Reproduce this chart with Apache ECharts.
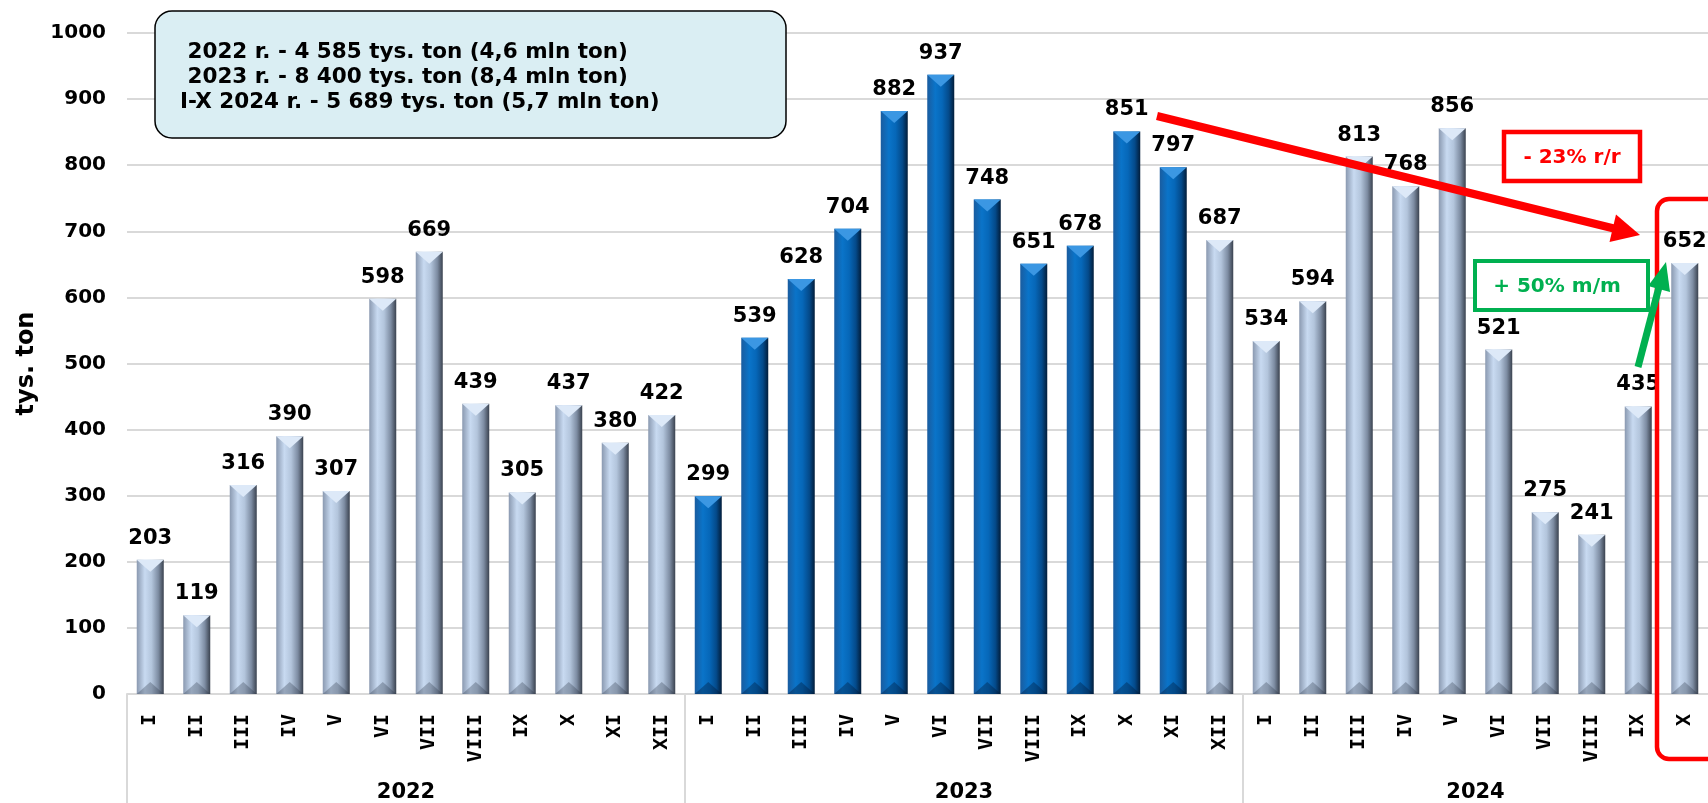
<!DOCTYPE html>
<html><head><meta charset="utf-8">
<script src="https://cdn.jsdelivr.net/npm/echarts@6/dist/echarts.min.js"></script>
<style>html,body{margin:0;padding:0;background:#fff}#c{width:1708px;height:803px}</style>
</head><body><div id="c"></div>
<script>
// ---- data ----
const years = ['2022', '2023', '2024'];
const monthNames = ['I','II','III','IV','V','VI','VII','VIII','IX','X','XI','XII'];
const values2022 = [203, 119, 316, 390, 307, 598, 669, 439, 305, 437, 380, 422];
const values2023 = [299, 539, 628, 704, 882, 937, 748, 651, 678, 851, 797, 687];
const values2024 = [534, 594, 813, 768, 856, 521, 275, 241, 435, 652];
const darkMonths2023 = 11; // I-XI 2023 drawn dark blue
const yAxisName = 'tys. ton';
const summaryLines = [
  ' 2022 r. - 4 585 tys. ton (4,6 mln ton)',
  ' 2023 r. - 8 400 tys. ton (8,4 mln ton)',
  'I-X 2024 r. - 5 689 tys. ton (5,7 mln ton)'
];
const yoyText = '- 23% r/r';
const momText = '+ 50% m/m';

// ---- build ----
const groups = [values2022, values2023, values2024];
const categories = [];
const values = [];
const isDark = [];
groups.forEach((g, gi) => g.forEach((v, mi) => {
  categories.push(monthNames[mi]);
  values.push(v);
  isDark.push(years[gi] === '2023' && mi < darkMonths2023);
}));
const total = categories.length;
const yearAxisData = new Array(2 * total + 1).fill('');
const boundaryIdx = [];
let start = 0;
groups.forEach((g, gi) => {
  boundaryIdx.push(2 * start);
  yearAxisData[2 * start + g.length] = years[gi];
  start += g.length;
});

const lightGrad = new echarts.graphic.LinearGradient(0, 0, 1, 0, [
  {offset: 0, color: '#8a99b0'}, {offset: 0.3, color: '#c8daf1'},
  {offset: 0.55, color: '#b3c5dc'}, {offset: 0.8, color: '#7d8ca2'}, {offset: 1, color: '#3a424f'}
]);
const darkGrad = new echarts.graphic.LinearGradient(0, 0, 1, 0, [
  {offset: 0, color: '#1a5c9f'}, {offset: 0.3, color: '#0a74c9'},
  {offset: 0.55, color: '#0667b8'}, {offset: 0.8, color: '#044a8a'}, {offset: 1, color: '#021d3a'}
]);

const FF = 'DejaVu Sans';
const BW = 27;

const chart = echarts.init(document.getElementById('c'), null, {renderer: 'canvas'});
chart.setOption({
  animation: false,
  backgroundColor: '#fff',
  grid: {left: 127, right: 0, top: 33, bottom: 107, containLabel: false},
  xAxis: [{
    type: 'category', data: categories, position: 'bottom',
    axisLine: {show: true, lineStyle: {color: '#d9d9d9', width: 2}},
    axisTick: {show: false},
    axisLabel: {interval: 0, rotate: 90, margin: 20, fontFamily: 'DejaVu Sans Mono', fontSize: 20, fontWeight: 'bold', color: '#000'}
  }, {
    type: 'category', data: yearAxisData, boundaryGap: false, position: 'bottom',
    axisLine: {show: false},
    axisTick: {show: true, length: 110, interval: (i) => boundaryIdx.includes(i), lineStyle: {color: '#d9d9d9', width: 2}},
    axisLabel: {interval: (i, v) => v !== '', margin: 88, fontFamily: FF, fontSize: 21, fontWeight: 'bold', color: '#000'}
  }],
  yAxis: {
    type: 'value', min: 0, max: 1000, interval: 100,
    name: yAxisName, nameLocation: 'middle', nameGap: 88, nameRotate: 90,
    nameTextStyle: {fontFamily: FF, fontSize: 24, fontWeight: 'bold', color: '#000'},
    axisLine: {show: false}, axisTick: {show: false},
    axisLabel: {margin: 21, fontFamily: FF, fontSize: 20, fontWeight: 'bold', color: '#000', formatter: (v) => String(v)},
    splitLine: {lineStyle: {color: '#d9d9d9', width: 2}}
  },
  series: [{
    type: 'bar', xAxisIndex: 0, barWidth: BW, z: 2,
    data: values.map((v, i) => ({value: v, itemStyle: {color: isDark[i] ? darkGrad : lightGrad}})),
    label: {show: true, position: 'top', distance: 11, fontFamily: FF, fontSize: 21, fontWeight: 'bold', color: '#000'}
  }, {
    type: 'pictorialBar', xAxisIndex: 0, z: 3, silent: true,
    symbol: 'path://M0,0L20,0L10,9Z', symbolSize: [BW, 12], symbolPosition: 'end',
    data: values.map((v, i) => ({value: v, itemStyle: {color: isDark[i] ? '#3b97e3' : '#dde9f8'}}))
  }, {
    type: 'pictorialBar', xAxisIndex: 0, z: 3, silent: true,
    symbol: 'path://M0,9L20,9L10,0Z', symbolSize: [BW, 12], symbolPosition: 'start',
    data: values.map((v, i) => ({value: v, itemStyle: {color: isDark[i] ? 'rgba(0,20,50,0.35)' : 'rgba(40,50,65,0.3)'}}))
  }],
  graphic: [
    {type: 'rect', z: 10, shape: {x: 155, y: 11, width: 631, height: 127, r: 17},
     style: {fill: '#daeef3', stroke: '#000', lineWidth: 1.5}},
    ...summaryLines.map((t, i) => ({type: 'text', z: 11,
      style: {text: t, x: 180, y: 52 + i * 25, align: 'left', verticalAlign: 'middle',
              fontFamily: FF, fontSize: 21.5, fontWeight: 'bold', fill: '#000'}})),
    // red y/y box
    {type: 'rect', z: 10, shape: {x: 1504, y: 132, width: 136, height: 49},
     style: {fill: '#fff', stroke: '#ff0000', lineWidth: 4.5}},
    {type: 'text', z: 11, style: {text: yoyText, x: 1572, y: 158, align: 'center', verticalAlign: 'middle',
      fontFamily: FF, fontSize: 20, fontWeight: 'bold', fill: '#ff0000'}},
    // red arrow
    {type: 'line', z: 12, shape: {x1: 1157, y1: 116, x2: 1616, y2: 229},
     style: {stroke: '#ff0000', lineWidth: 8}},
    {type: 'polygon', z: 12, shape: {points: [[1640, 235], [1616, 214.5], [1609.5, 242]]},
     style: {fill: '#ff0000'}},
    // red column highlight
    {type: 'rect', z: 10, shape: {x: 1657, y: 199, width: 90, height: 560, r: 12},
     style: {fill: 'none', stroke: '#ff0000', lineWidth: 4.5}},
    // green m/m box
    {type: 'rect', z: 10, shape: {x: 1475, y: 261, width: 173, height: 49},
     style: {fill: '#fff', stroke: '#00b050', lineWidth: 4}},
    {type: 'text', z: 11, style: {text: momText, x: 1557, y: 287, align: 'center', verticalAlign: 'middle',
      fontFamily: FF, fontSize: 20, fontWeight: 'bold', fill: '#00b050'}},
    // green arrow
    {type: 'line', z: 12, shape: {x1: 1638, y1: 367, x2: 1659, y2: 287},
     style: {stroke: '#00b050', lineWidth: 7}},
    {type: 'polygon', z: 12, shape: {points: [[1666, 262], [1670, 292], [1648, 286]]},
     style: {fill: '#00b050'}}
  ]
});
</script></body></html>
